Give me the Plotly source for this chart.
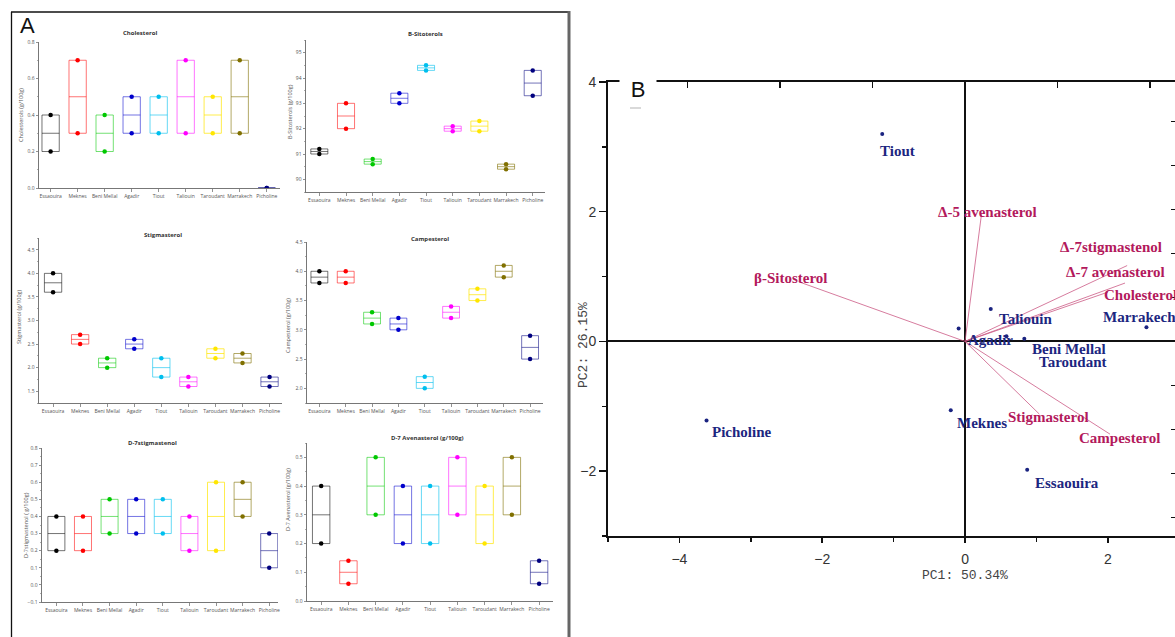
import plotly.graph_objects as go

W, H = 1175, 637
def fx(p): return p / W
def fy(p): return 1 - p / H

# ---------------- data ----------------
sites = ["Essaouira", "Meknes", "Beni Mellal", "Agadir", "Tiout",
         "Taliouin", "Taroudant", "Marrakech", "Picholine"]
site_colors = ["#000000", "#ff0000", "#00c800", "#0000cc", "#00bfee",
               "#ff00ff", "#ffe600", "#807000", "#00007f"]
box_colors = ["rgba(0,0,0,0.55)", "rgba(255,0,0,0.55)", "rgba(0,200,0,0.55)",
              "rgba(0,0,204,0.55)", "rgba(0,191,238,0.6)", "rgba(255,0,255,0.55)",
              "rgba(255,230,0,0.7)", "rgba(128,112,0,0.6)", "rgba(0,0,127,0.55)"]

chol_min = [0.2, 0.3, 0.2, 0.3, 0.3, 0.3, 0.3, 0.3, 0.0]
chol_med = [0.3, 0.5, 0.3, 0.4, 0.4, 0.5, 0.4, 0.5, 0.0]
chol_max = [0.4, 0.7, 0.4, 0.5, 0.5, 0.7, 0.5, 0.7, 0.0]

sito_min = [91.0, 92.0, 90.6, 93.0, 94.3, 91.9, 91.9, 90.4, 93.3]
sito_med = [91.1, 92.5, 90.7, 93.2, 94.4, 92.0, 92.1, 90.5, 93.8]
sito_max = [91.2, 93.0, 90.8, 93.4, 94.5, 92.1, 92.3, 90.6, 94.3]

stig_min = [3.6, 2.5, 2.0, 2.4, 1.8, 1.6, 2.2, 2.1, 1.6]
stig_med = [3.8, 2.6, 2.1, 2.5, 2.0, 1.7, 2.3, 2.2, 1.7]
stig_max = [4.0, 2.7, 2.2, 2.6, 2.2, 1.8, 2.4, 2.3, 1.8]

camp_min = [3.8, 3.8, 3.1, 3.0, 2.0, 3.2, 3.5, 3.9, 2.5]
camp_med = [3.9, 3.9, 3.2, 3.1, 2.1, 3.3, 3.6, 4.0, 2.7]
camp_max = [4.0, 4.0, 3.3, 3.2, 2.2, 3.4, 3.7, 4.1, 2.9]

d7s_min = [0.2, 0.2, 0.3, 0.3, 0.3, 0.2, 0.2, 0.4, 0.1]
d7s_med = [0.3, 0.3, 0.4, 0.4, 0.4, 0.3, 0.4, 0.5, 0.2]
d7s_max = [0.4, 0.4, 0.5, 0.5, 0.5, 0.4, 0.6, 0.6, 0.3]

d7a_min = [0.2, 0.06, 0.3, 0.2, 0.2, 0.3, 0.2, 0.3, 0.06]
d7a_med = [0.3, 0.10, 0.4, 0.3, 0.3, 0.4, 0.3, 0.4, 0.10]
d7a_max = [0.4, 0.14, 0.5, 0.4, 0.4, 0.5, 0.4, 0.5, 0.14]

# PCA scores (PC1, PC2) in same site order
pc1_scores = [0.87, -0.20, 0.83, -0.09, -1.16, 0.36, 0.58, 2.54, -3.62]
pc2_scores = [-1.98, -1.06, 0.04, 0.20, 3.20, 0.50, 0.08, 0.22, -1.22]
score_label_x = [0.95, -0.14, 0.91, 0.01, -1.22, 0.45, 1.01, 1.91, -3.57]
score_label_y = [-2.18, -1.25, -0.12, 0.02, 2.94, 0.34, -0.31, 0.37, -1.40]

# loadings
var_names = ["Cholesterol", "β-Sitosterol", "Stigmasterol", "Campesterol",
             "Δ-7stigmastenol", "Δ-5 avenasterol", "Δ-7 avenasterol"]
load_pc1 = [2.00, -2.33, 1.04, 2.03, 2.27, 0.23, 2.24]
load_pc2 = [0.76, 0.92, -1.12, -1.43, 1.17, 1.96, 0.90]
var_label_x = [1.92, -2.98, 0.57, 1.57, 1.30, -0.41, 1.39]
var_label_y = [0.71, 0.98, -1.17, -1.49, 1.46, 2.00, 1.07]

fig = go.Figure()

# ---------------- panel A ----------------
panels = [
    dict(title="Cholesterol", ytitle="Cholesterols (g/100g)", lo=chol_min, med=chol_med, hi=chol_max,
         xd=(39, 280), yd=(188, 42), yr=(0, 0.8), dtick=0.2, minor=0.1, fmt=".1f",
         xr=(-0.43, 8.49), tpos=(140, 33), ypos=(21, 115)),
    dict(title="B-Sitoterols", ytitle="B-Sitosterols (g/100g)", lo=sito_min, med=sito_med, hi=sito_max,
         xd=(306, 545), yd=(192, 40), yr=(89.5, 95.5), dtick=1, minor=0.5, fmt="d",
         xr=(-0.5, 8.46), tpos=(425, 34), ypos=(290, 112)),
    dict(title="Stigmasterol", ytitle="Stigmasterol (g/100g)", lo=stig_min, med=stig_med, hi=stig_max,
         xd=(39, 282), yd=(403, 238), yr=(1.25, 4.75), dtick=0.5, minor=0.25, fmt=".1f",
         xr=(-0.52, 8.46), tpos=(163, 235), ypos=(19, 317)),
    dict(title="Campesterol", ytitle="Campesterol (g/100g)", lo=camp_min, med=camp_med, hi=camp_max,
         xd=(307, 543), yd=(403, 242), yr=(1.75, 4.5), dtick=0.5, minor=0.25, fmt=".1f",
         xr=(-0.47, 8.49), tpos=(430, 239), ypos=(288, 326)),
    dict(title="D-7stigmastenol", ytitle="D-7stigmastenol ( g/100g)", lo=d7s_min, med=d7s_med, hi=d7s_max,
         xd=(42, 278), yd=(602, 448), yr=(-0.1, 0.8), dtick=0.1, minor=0.05, fmt=".1f",
         xr=(-0.54, 8.33), tpos=(152, 443), ypos=(26, 525)),
    dict(title="D-7 Avenasterol (g/100g)", ytitle="D-7 Avenasterol (g/100g)", lo=d7a_min, med=d7a_med, hi=d7a_max,
         xd=(307, 553), yd=(601, 443), yr=(0, 0.55), dtick=0.1, minor=0.05, fmt=".1f",
         xr=(-0.52, 8.51), tpos=(427, 438), ypos=(288, 500)),
]

layout = dict(width=W, height=H, template="none",
              margin=dict(l=0, r=0, t=0, b=0, pad=0, autoexpand=False),
              paper_bgcolor="white", plot_bgcolor="rgba(0,0,0,0)",
              showlegend=False, boxmode="overlay")
annotations = []
shapes = []

small_font = dict(family="Open Sans, Liberation Sans, sans-serif", size=5, color="#555")

def paper_text(x, y, text, font, **kw):
    d = dict(x=fx(x), y=fy(y), xref="paper", yref="paper", text=text, showarrow=False,
             xanchor="center", yanchor="middle", font=font)
    d.update(kw)
    return d

for i, p in enumerate(panels):
    n = i + 1
    xa = "x" if n == 1 else f"x{n}"
    ya = "y" if n == 1 else f"y{n}"
    xkey = "xaxis" if n == 1 else f"xaxis{n}"
    ykey = "yaxis" if n == 1 else f"yaxis{n}"
    for j, s in enumerate(sites):
        fig.add_trace(go.Box(
            x=[s], q1=[p["lo"][j]], median=[p["med"][j]], q3=[p["hi"][j]],
            lowerfence=[p["lo"][j]], upperfence=[p["hi"][j]],
            xaxis=xa, yaxis=ya, width=0.64, whiskerwidth=0,
            line=dict(color=box_colors[j], width=1), fillcolor="rgba(0,0,0,0)",
            boxpoints=False, hoverinfo="skip", showlegend=False))
    fig.add_trace(go.Scatter(
        x=sites + sites, y=list(p["lo"]) + list(p["hi"]), mode="markers",
        marker=dict(color=site_colors + site_colors, size=4.5),
        xaxis=xa, yaxis=ya, hoverinfo="skip", showlegend=False))
    layout[xkey] = dict(domain=[fx(p["xd"][0]), fx(p["xd"][1])], anchor=ya,
                        type="category", categoryorder="array", categoryarray=sites,
                        range=list(p["xr"]), showline=True, linecolor="#777", linewidth=1,
                        ticks="outside", ticklen=2.5, tickcolor="#777", tickwidth=0.8,
                        tickangle=0, automargin=False,
                        tickfont=small_font, showgrid=False, zeroline=False, fixedrange=True)
    layout[ykey] = dict(domain=[fy(p["yd"][0]), fy(p["yd"][1])], anchor=xa,
                        range=list(p["yr"]), showline=True, linecolor="#777", linewidth=1,
                        ticks="outside", ticklen=2.5, tickcolor="#777", tickwidth=0.8,
                        dtick=p["dtick"], tick0=0, tickformat=p["fmt"], automargin=False,
                        minor=dict(ticks="outside", ticklen=1.5, dtick=p["minor"], tickcolor="#999"),
                        tickfont=small_font, showgrid=False, zeroline=False, fixedrange=True)
    annotations.append(paper_text(p["tpos"][0], p["tpos"][1], f"<b>{p['title']}</b>",
                                  dict(family="Open Sans, Liberation Sans, sans-serif", size=6, color="#333")))
    annotations.append(paper_text(p["ypos"][0], p["ypos"][1], p["ytitle"],
                                  dict(family="Open Sans, Liberation Sans, sans-serif", size=5.5, color="#555"),
                                  textangle=-90))

# Panel A frame and label
shapes.append(dict(type="line", xref="paper", yref="paper", x0=fx(11.5), x1=fx(11.5), y0=fy(12), y1=fy(640),
                   line=dict(color="#111", width=1.3)))
shapes.append(dict(type="line", xref="paper", yref="paper", x0=fx(11), x1=fx(570), y0=fy(12), y1=fy(12),
                   line=dict(color="#111", width=1.3)))
shapes.append(dict(type="line", xref="paper", yref="paper", x0=fx(569), x1=fx(569), y0=fy(11), y1=fy(640),
                   line=dict(color="#666", width=3)))
annotations.append(paper_text(27, 25, "A", dict(family="Liberation Sans, Arial", size=22, color="#111")))

# ---------------- panel B ----------------
sx = 92.5 / 71.4   # top axis scale
sy = 64.86 / 44.0  # right axis scale
x7r = [-5, 2.94]
y7r = [-3, 4]

line_x, line_y = [], []
for lx, ly in zip(load_pc1, load_pc2):
    line_x += [0, lx, None]
    line_y += [0, ly, None]
fig.add_trace(go.Scatter(x=line_x, y=line_y, mode="lines", xaxis="x7", yaxis="y7",
                         line=dict(color="rgba(200,80,125,0.75)", width=1),
                         hoverinfo="skip", showlegend=False))
fig.add_trace(go.Scatter(x=pc1_scores, y=pc2_scores, mode="markers", xaxis="x7", yaxis="y7",
                         marker=dict(color="#1a2380", size=4), hoverinfo="skip", showlegend=False))
fig.add_trace(go.Scatter(x=[0], y=[0], mode="markers", xaxis="x8", yaxis="y8",
                         marker=dict(size=1, color="rgba(0,0,0,0)"), hoverinfo="skip", showlegend=False))

layout["xaxis7"] = dict(domain=[fx(608), 1.0], anchor="y7", range=x7r,
                        showline=True, linecolor="#111", linewidth=2,
                        ticks="outside", ticklen=5, tickwidth=1.5, tickcolor="#111",
                        dtick=2, tick0=0, minor=dict(ticks="outside", ticklen=4, dtick=1, tickcolor="#111"),
                        tickfont=dict(family="Liberation Sans, Arial", size=14, color="#333"),
                        ticklabelstandoff=4, automargin=False,
                        zeroline=True, zerolinecolor="#111", zerolinewidth=2, showgrid=False, fixedrange=True)
layout["yaxis7"] = dict(domain=[fy(536), fy(82)], anchor="x7", range=y7r,
                        showline=True, linecolor="#111", linewidth=2,
                        ticks="outside", ticklen=7, tickwidth=1.5, tickcolor="#111",
                        dtick=2, tick0=0, minor=dict(ticks="outside", ticklen=4, dtick=1, tickcolor="#111"),
                        tickfont=dict(family="Liberation Sans, Arial", size=14, color="#333"),
                        automargin=False,
                        zeroline=True, zerolinecolor="#111", zerolinewidth=2, showgrid=False, fixedrange=True)
layout["xaxis8"] = dict(overlaying="x7", side="top", anchor="y7", range=[v / sx for v in x7r],
                        showline=True, linecolor="#111", linewidth=2,
                        ticks="inside", ticklen=6, tickwidth=1.5, tickcolor="#111", dtick=1, tick0=0,
                        showticklabels=False, zeroline=False, showgrid=False, fixedrange=True,
                        automargin=False)
layout["yaxis8"] = dict(overlaying="y7", side="right", anchor="x7", range=[v * sy for v in y7r],
                        showline=False, ticks="inside", ticklen=4, tickwidth=1.5, tickcolor="#111",
                        dtick=1, tick0=0, showticklabels=False, zeroline=False, showgrid=False,
                        fixedrange=True, automargin=False)

serif_b = "Liberation Serif, Times New Roman, serif"
for name, lx, ly in zip(sites, score_label_x, score_label_y):
    annotations.append(dict(x=lx, y=ly, xref="x7", yref="y7", text=f"<b>{name}</b>",
                            showarrow=False, xanchor="left", yanchor="middle",
                            font=dict(family=serif_b, size=15, color="#1c2680")))
for name, lx, ly in zip(var_names, var_label_x, var_label_y):
    annotations.append(dict(x=lx, y=ly, xref="x7", yref="y7", text=f"<b>{name}</b>",
                            showarrow=False, xanchor="left", yanchor="middle",
                            font=dict(family=serif_b, size=15, color="#b3195c")))

annotations.append(paper_text(965, 575, "PC1: 50.34%",
                              dict(family="Liberation Mono, Courier New", size=13, color="#444")))
annotations.append(paper_text(583, 345, "PC2: 26.15%",
                              dict(family="Liberation Mono, Courier New", size=13, color="#444"),
                              textangle=-90))
annotations.append(paper_text(638, 89, "B", dict(family="Liberation Sans, Arial", size=22, color="#111"),
                              bgcolor="white", width=34, height=30, borderpad=1))
shapes.append(dict(type="line", xref="paper", yref="paper", x0=fx(630), x1=fx(641), y0=fy(108), y1=fy(108),
                   line=dict(color="#ccc", width=1.5)))

layout["annotations"] = annotations
layout["shapes"] = shapes
fig.update_layout(**layout)
fig.write_html("out.html", config={"displayModeBar": False, "staticPlot": True},
               post_script="document.body.style.margin='0';document.body.style.overflow='hidden';")
